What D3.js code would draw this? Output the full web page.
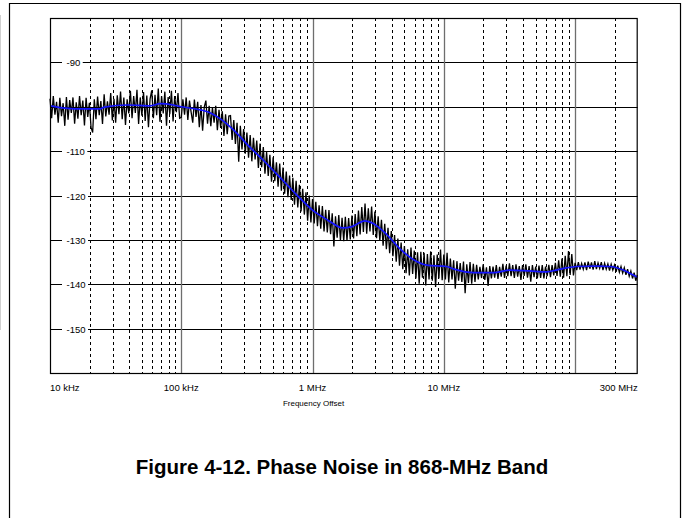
<!DOCTYPE html>
<html>
<head>
<meta charset="utf-8">
<script src="https://cdn.jsdelivr.net/npm/d3@7/dist/d3.min.js"></script>
<style>
  html, body { margin: 0; padding: 0; background: #fff; }
  svg { display: block; font-family: "Liberation Sans", Arial, sans-serif; }
</style>
</head>
<body>
<div id="chart"></div>
<script>
// measured trace: one sample every 1/80 decade starting at 10 kHz (dBc/Hz)
const traceStartHz = 1e4;
const tracePerDecade = 80;
const traceDb = [
  -98.2, -102.6, -97.6, -101.8, -98.9, -103.6, -98.0, -102.1, -99.2, -104.3,
  -97.8, -102.9, -98.5, -101.4, -97.9, -103.8, -99.0, -102.7, -97.6, -101.9,
  -98.6, -104.2, -98.0, -102.3, -99.1, -104.6, -105.8, -98.3, -102.8, -97.7,
  -101.9, -98.7, -103.9, -97.2, -102.2, -98.8, -101.8, -96.9, -103.1, -98.2,
  -103.6, -97.4, -101.7, -96.6, -102.8, -97.9, -104.1, -98.3, -101.5, -96.4,
  -102.6, -97.6, -101.4, -96.2, -103.9, -97.9, -102.0, -96.7, -103.2, -97.5,
  -104.6, -98.2, -96.3, -102.6, -97.3, -101.9, -95.9, -103.4, -97.6, -101.5,
  -96.6, -104.3, -97.8, -101.7, -96.4, -103.3, -97.6, -101.2, -96.9, -102.6,
  // 100 kHz
  -102.4, -98.3, -101.8, -97.9, -103.0, -98.6, -101.2, -103.6, -98.4, -102.3,
  -98.9, -104.6, -99.6, -105.4, -100.1, -98.6, -103.8, -99.8, -104.4, -100.2,
  -103.6, -99.8, -105.3, -100.7, -104.8, -101.0, -106.6, -101.7, -106.2, -102.1,
  -102.0, -107.5, -103.0, -108.4, -103.6, -112.4, -104.3, -109.6, -105.0, -110.6,
  -105.8, -111.5, -106.4, -112.3, -107.0, -111.9, -107.6, -113.8, -108.3, -113.6,
  -109.1, -115.1, -110.2, -115.6, -110.8, -116.9, -111.4, -116.8, -112.5, -118.0,
  -112.8, -118.9, -113.7, -119.6, -114.6, -120.4, -115.5, -121.0, -116.0, -122.1,
  -116.7, -122.7, -117.6, -123.6, -118.5, -124.3, -119.3, -125.7, -120.0, -126.1,
  // 1 MHz
  -120.8, -126.3, -121.4, -126.9, -122.2, -127.5, -122.4, -128.1, -123.2, -128.3,
  -123.3, -128.7, -124.0, -131.5, -124.7, -129.5, -124.4, -130.1, -125.0, -130.3,
  -124.8, -130.2, -125.1, -129.9, -124.5, -129.7, -124.2, -129.2, -123.4, -128.8,
  -122.6, -128.2, -121.8, -128.6, -122.9, -128.1, -122.5, -128.9, -123.6, -129.6,
  -124.7, -130.2, -125.5, -131.3, -126.4, -132.1, -127.3, -133.0, -128.0, -133.7,
  -128.9, -134.9, -129.7, -135.8, -130.6, -136.6, -131.4, -137.5, -132.1, -138.0,
  -131.7, -137.7, -132.4, -138.7, -132.8, -139.9, -132.7, -138.5, -132.9, -140.3,
  -133.2, -138.9, -132.6, -139.2, -133.5, -140.6, -133.3, -138.7, -132.2, -139.1,
  // 10 MHz
  -133.3, -138.9, -132.9, -139.6, -134.2, -138.9, -134.6, -141.0, -134.8, -139.2,
  -135.2, -139.5, -134.9, -142.0, -135.5, -139.7, -135.0, -139.9, -135.4, -139.5,
  -135.6, -138.9, -136.1, -138.6, -135.5, -139.0, -136.2, -140.4, -135.9, -138.7,
  -136.0, -138.5, -135.7, -138.8, -136.1, -138.3, -135.4, -138.6, -135.8, -138.2,
  -135.3, -138.2, -135.7, -138.6, -135.5, -138.3, -135.9, -139.0, -135.7, -138.1,
  -135.5, -138.5, -135.9, -139.4, -135.7, -138.4, -136.0, -138.7, -135.8, -138.6,
  -135.7, -138.7, -136.0, -138.2, -135.6, -138.4, -135.7, -138.0, -135.2, -138.1,
  -134.6, -138.3, -134.2, -138.5, -133.6, -138.2, -132.5, -137.9, -133.2, -138.0,
  // 100 MHz
  -135.2, -136.8, -135.0, -136.7, -135.3, -136.6, -135.1, -136.8, -134.9, -136.5,
  -135.1, -136.7, -134.8, -136.6, -135.2, -136.4, -135.0, -136.8, -135.3, -136.6,
  -135.4, -136.9, -135.5, -136.8, -135.7, -137.2, -135.8, -137.3, -136.0, -137.5,
  -136.3, -137.9, -136.6, -138.2, -137.0, -138.7, -137.4, -139.2, -137.9
];

// smoothed (blue) curve
const smoothHz = [10e3, 13e3, 18e3, 24e3, 26e3, 39e3, 58e3, 69e3, 87e3, 100e3,
  140e3, 170e3, 200e3, 250e3, 330e3, 420e3, 560e3, 760e3, 1e6, 1.3e6,
  1.7e6, 2.0e6, 2.5e6, 2.9e6, 3.7e6, 4.6e6, 5.9e6, 7.4e6, 10.5e6, 12e6,
  17e6, 24e6, 32e6, 45e6, 61e6, 72e6, 86e6, 103e6, 146e6, 185e6,
  233e6, 277e6, 300e6];
const smoothDb = [-99.8, -100.3, -100.5, -100.5, -100.1, -99.6, -99.8, -99.3, -99.6, -100.0,
  -100.7, -101.5, -102.8, -105.2, -109.0, -112.0, -115.8, -119.9, -123.3, -125.5,
  -127.3, -127.0, -125.7, -126.3, -128.9, -131.9, -134.5, -135.7, -136.0, -136.6,
  -137.4, -137.4, -136.8, -137.0, -137.2, -136.8, -136.3, -136.0, -135.9, -136.0,
  -136.8, -137.9, -138.4];

// axes
const gridDb = [-90, -100, -110, -120, -130, -140, -150];
const yLabelDb = [-90, -110, -120, -130, -140, -150];
const decadesHz = [1e4, 1e5, 1e6, 1e7, 1e8];
const minorMult = [2, 3, 4, 5, 6, 7, 8, 9];
const xLabelHz = [1e4, 1e5, 1e6, 1e7, 3e8];
const xLabelText = ["10 kHz", "100 kHz", "1 MHz", "10 MHz", "300 MHz"];
const xTitle = "Frequency Offset";
const figTitle = "Figure 4-12. Phase Noise in 868-MHz Band";

const W = 687, H = 518;
const plot = { left: 50, top: 18, right: 637.7, bottom: 373 };

const svg = d3.select("#chart").append("svg")
    .attr("width", W)
    .attr("height", H);

svg.append("rect").attr("width", W).attr("height", H).attr("fill", "#fff");

// page frame
svg.append("line").attr("x1", 0.5).attr("x2", 0.5).attr("y1", 15).attr("y2", 330)
    .attr("stroke", "#d0d0d0").attr("stroke-width", 1);
svg.append("path")
    .attr("d", `M9.5,${H} V3.5 H680.5 V${H}`)
    .attr("fill", "none").attr("stroke", "#000").attr("stroke-width", 1.2);

const x = d3.scaleLog().domain([1e4, 3e8]).range([plot.left, plot.right]);
const y = d3.scaleLinear().domain([-160, -80]).range([plot.bottom, plot.top]);

// minor vertical grid (dashed)
const minorHz = [];
decadesHz.forEach(d => minorMult.forEach(m => { if (d * m < 3e8) minorHz.push(d * m); }));

svg.append("g").selectAll("line")
    .data(minorHz)
    .enter().append("line")
    .attr("x1", d => Math.round(x(d)) + 0.5)
    .attr("x2", d => Math.round(x(d)) + 0.5)
    .attr("y1", plot.top).attr("y2", plot.bottom)
    .attr("stroke", "#000").attr("stroke-width", 1)
    .attr("stroke-dasharray", "3,3");

// horizontal grid
svg.append("g").selectAll("line")
    .data(gridDb)
    .enter().append("line")
    .attr("x1", plot.left).attr("x2", plot.right)
    .attr("y1", d => Math.round(y(d)) + 0.5)
    .attr("y2", d => Math.round(y(d)) + 0.5)
    .attr("stroke", "#000").attr("stroke-width", 1);

// decade lines (solid gray)
svg.append("g").selectAll("line")
    .data(decadesHz.slice(1))
    .enter().append("line")
    .attr("x1", d => Math.round(x(d)) + 0.5).attr("x2", d => Math.round(x(d)) + 0.5)
    .attr("y1", plot.top).attr("y2", plot.bottom)
    .attr("stroke", "#6e6e6e").attr("stroke-width", 1.3);

// y labels sit inside the plot on white boxes
const yLab = svg.append("g").selectAll("g")
    .data(yLabelDb)
    .enter().append("g")
    .attr("transform", d => `translate(66.5,${Math.round(y(d)) + 0.5})`);

yLab.append("text")
    .attr("font-size", "9.5px")
    .attr("dy", "0.35em")
    .text(d => d)
    .each(function() {
        const bb = this.getBBox();
        d3.select(this.parentNode).insert("rect", "text")
            .attr("x", -4.5).attr("y", -2)
            .attr("width", bb.width + 7).attr("height", 4)
            .attr("fill", "#fff");
    });

// noisy trace
const traceLine = d3.line()
    .x((d, i) => x(traceStartHz * Math.pow(10, i / tracePerDecade)))
    .y(d => y(d));

svg.append("path")
    .datum(traceDb)
    .attr("d", traceLine)
    .attr("fill", "none")
    .attr("stroke", "#000")
    .attr("stroke-width", 1.3)
    .attr("stroke-linejoin", "miter");

// smoothed curve
const smoothLine = d3.line()
    .x((d, i) => x(smoothHz[i]))
    .y(d => y(d))
    .curve(d3.curveMonotoneX);

svg.append("path")
    .datum(smoothDb)
    .attr("d", smoothLine)
    .attr("fill", "none")
    .attr("stroke", "#1414ff")
    .attr("stroke-width", 1.7);

// plot border
svg.append("rect")
    .attr("x", plot.left + 0.5).attr("y", plot.top + 0.5)
    .attr("width", plot.right - plot.left - 1).attr("height", plot.bottom - plot.top)
    .attr("fill", "none").attr("stroke", "#000").attr("stroke-width", 1.2);

// x labels
svg.append("g").selectAll("text")
    .data(xLabelHz)
    .enter().append("text")
    .attr("x", d => x(d))
    .attr("y", 391)
    .attr("font-size", "9.5px")
    .attr("text-anchor", (d, i) => i === 0 ? "start" : (i === xLabelHz.length - 1 ? "end" : "middle"))
    .text((d, i) => xLabelText[i]);

svg.append("text")
    .attr("x", x(1e6) + 1)
    .attr("y", 406)
    .attr("font-size", "8px")
    .attr("text-anchor", "middle")
    .text(xTitle);

svg.append("text")
    .attr("x", 342)
    .attr("y", 474)
    .attr("font-size", "20.5px")
    .attr("font-weight", "bold")
    .attr("text-anchor", "middle")
    .text(figTitle);
</script>
</body>
</html>
